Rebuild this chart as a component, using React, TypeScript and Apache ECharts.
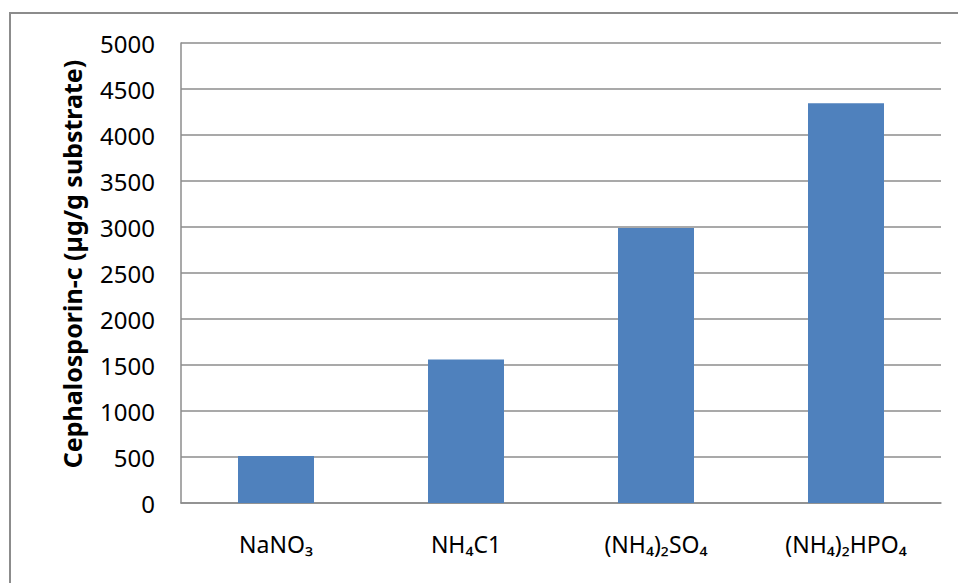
import React, { useEffect, useRef } from "react";
import * as echarts from "echarts";

const categories = ["NaNO₃", "NH₄C1", "(NH₄)₂SO₄", "(NH₄)₂HPO₄"];
const values = [510, 1560, 2990, 4345];
const yAxisTitle = "Cephalosporin-c (µg/g substrate)";

const FONT = "'Noto Sans', 'DejaVu Sans', sans-serif";

export default function App() {
  const ref = useRef<HTMLDivElement>(null);
  useEffect(() => {
    if (!ref.current) return;
    const chart = echarts.init(ref.current, null, { renderer: "svg" });
    chart.setOption({
      animation: false,
      backgroundColor: "#ffffff",
      graphic: [
        {
          type: "rect",
          shape: { x: 10, y: 13, width: 960, height: 600 },
          style: { fill: "none", stroke: "#8c8c8c", lineWidth: 2 },
          silent: true,
          z: -1,
        },
        {
          type: "text",
          x: 72,
          y: 264,
          rotation: Math.PI / 2,
          style: {
            text: yAxisTitle,
            fill: "#000",
            font: `bold 25px ${FONT}`,
            align: "center",
            verticalAlign: "middle",
          },
        },
      ],
      grid: { left: 181, right: 17, top: 43, bottom: 80, containLabel: false },
      xAxis: {
        type: "category",
        data: categories,
        axisLine: { show: true, lineStyle: { color: "#8c8c8c", width: 1.5 } },
        axisTick: { show: false },
        axisLabel: { color: "#000", fontSize: 23, fontFamily: FONT, margin: 29 },
      },
      yAxis: {
        type: "value",
        min: 0,
        max: 5000,
        interval: 500,
        axisLine: { show: true, lineStyle: { color: "#8c8c8c", width: 1.5 } },
        axisTick: { show: false },
        splitLine: { show: true, lineStyle: { color: "#8c8c8c", width: 1.5 } },
        axisLabel: {
          color: "#000",
          fontSize: 24,
          fontFamily: FONT,
          margin: 26,
          formatter: (v: number) => String(v),
        },
      },
      series: [
        {
          type: "bar",
          data: values,
          barWidth: "40%",
          itemStyle: { color: "#4f81bd" },
        },
      ],
    });
    return () => chart.dispose();
  }, []);
  return (
    <div
      ref={ref}
      style={{ position: "fixed", left: 0, top: 0, width: 958, height: 583 }}
    />
  );
}
